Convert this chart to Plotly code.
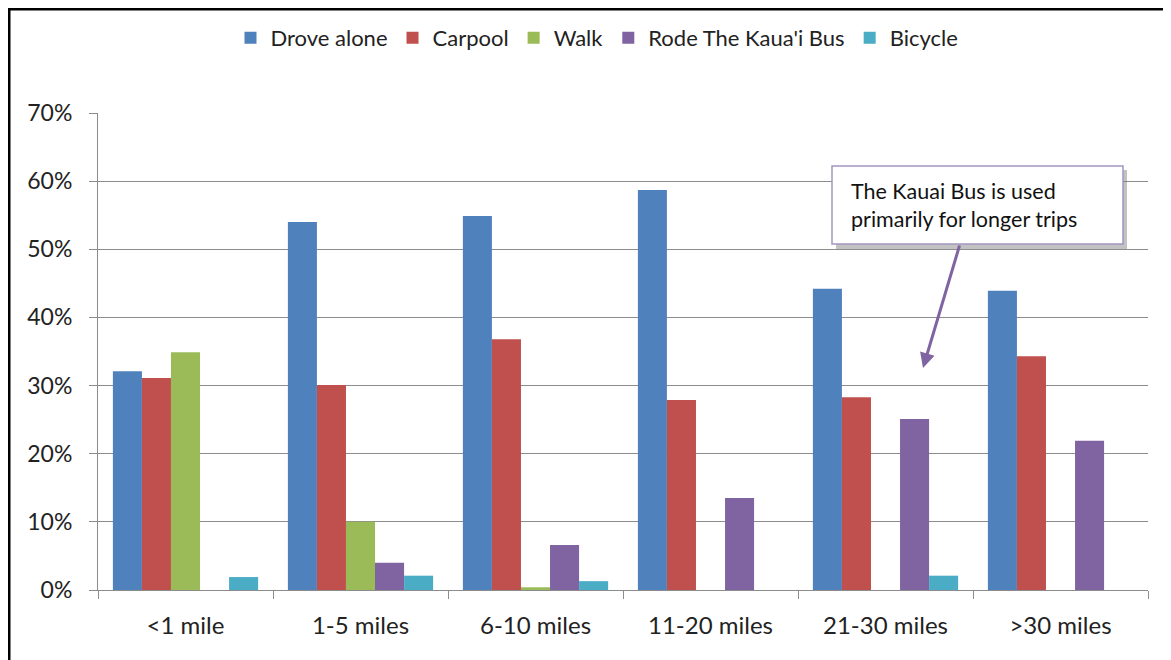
import plotly.graph_objects as go

categories = ["<1 mile", "1-5 miles", "6-10 miles", "11-20 miles", "21-30 miles", ">30 miles"]
drove_alone = [0.321, 0.540, 0.549, 0.587, 0.442, 0.439]
carpool = [0.311, 0.301, 0.368, 0.279, 0.283, 0.343]
walk = [0.349, 0.100, 0.004, 0.0, 0.0, 0.0]
bus = [0.0, 0.040, 0.066, 0.135, 0.251, 0.219]
bicycle = [0.019, 0.021, 0.013, 0.0, 0.021, 0.0]

series = [
    ("Drove alone", drove_alone, "#4F81BD"),
    ("Carpool", carpool, "#C0504D"),
    ("Walk", walk, "#9BBB59"),
    ("Rode The Kaua'i Bus", bus, "#8064A2"),
    ("Bicycle", bicycle, "#4BACC6"),
]

FONT = "Lato"
fig = go.Figure()
for name, vals, col in series:
    fig.add_trace(go.Bar(x=categories, y=vals, name=name, marker=dict(color=col, line=dict(width=0))))

OFF = 8  # page body margin
W, H = 1171 - OFF, 660 - OFF
# plot area in screenshot pixels
L, R, T, B = 98, 1148, 113, 590


def px(x):
    return (x - L) / (R - L)


def py(y):
    return (B - y) / (B - T)


fig.update_layout(
    width=W, height=H,
    margin=dict(l=L - OFF, r=1171 - R, t=T - OFF, b=660 - B, autoexpand=False),
    paper_bgcolor="white", plot_bgcolor="white",
    barmode="group", bargap=0.17, bargroupgap=0,
    font=dict(family=FONT, size=23, color="#222222"),
    legend=dict(orientation="h", x=px(597), y=py(38), xanchor="center", yanchor="middle",
                font=dict(family=FONT, size=22, color="#222222"), itemwidth=30, tracegroupgap=0),
    showlegend=True,
)
fig.update_yaxes(range=[0, 0.7], dtick=0.1, tickformat=".0%", showgrid=True, gridcolor="#8c8c8c",
                 gridwidth=1, showline=True, linecolor="#8c8c8c", ticks="outside", ticklen=8,
                 tickcolor="#8c8c8c", zeroline=False, tickfont=dict(size=23), ticklabelstandoff=12)
fig.update_xaxes(showline=True, linecolor="#8c8c8c", ticks="outside", ticklen=8, tickcolor="#8c8c8c",
                 tickson="boundaries", tickfont=dict(size=24), ticklabelstandoff=14)

# outer frame (left & top edges)
fig.add_shape(type="line", xref="paper", yref="paper", x0=px(9), x1=px(9), y0=py(680), y1=py(8),
              line=dict(color="black", width=3))
fig.add_shape(type="line", xref="paper", yref="paper", x0=px(8), x1=px(1190), y0=py(9), y1=py(9),
              line=dict(color="black", width=3))

# callout box with shadow
fig.add_shape(type="rect", xref="paper", yref="paper", x0=px(836), x1=px(1127), y0=py(249), y1=py(170),
              line=dict(width=0), fillcolor="rgba(120,120,120,0.45)")
fig.add_shape(type="rect", xref="paper", yref="paper", x0=px(832), x1=px(1123), y0=py(244), y1=py(166),
              line=dict(color="#A395C0", width=1.5), fillcolor="white")
fig.add_annotation(xref="paper", yref="paper", x=px(849), y=py(205), xanchor="left", yanchor="middle",
                   text="The Kauai Bus is used<br>primarily for longer trips", align="left",
                   showarrow=False, font=dict(family=FONT, size=21.5, color="#111111"))
fig.add_annotation(xref="paper", yref="paper", x=px(923), y=py(368), ax=37, ay=-124, text="",
                   showarrow=True, arrowhead=2, arrowsize=1, arrowwidth=3, arrowcolor="#8064A2")

fig.write_html("out.html")
